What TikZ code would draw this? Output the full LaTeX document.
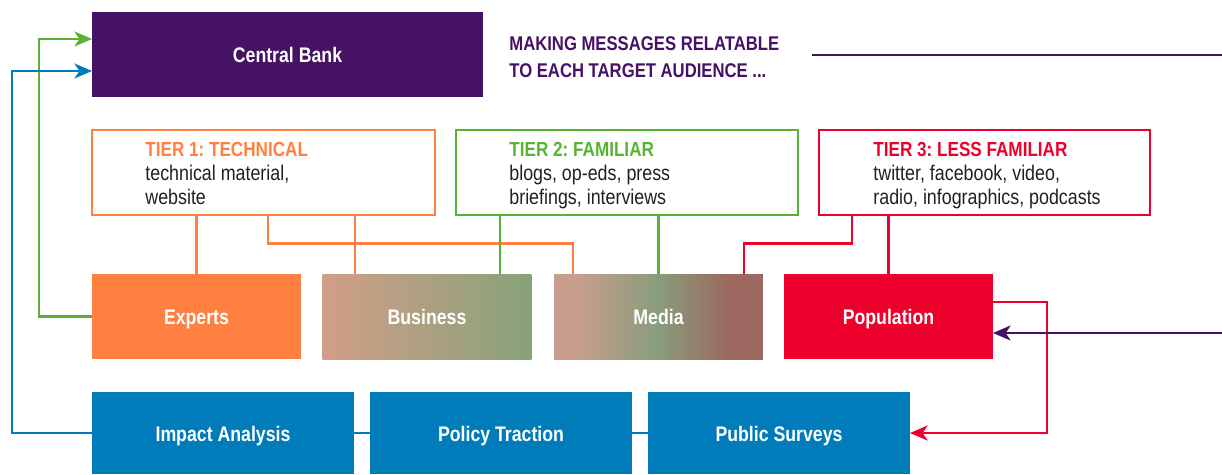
\documentclass[tikz,border=0pt]{standalone}
\usepackage{fontspec}
\setmainfont{Liberation Sans}[FakeStretch=0.84]
\usetikzlibrary{arrows.meta, positioning, calc}

\definecolor{cbpurple}{RGB}{69, 18, 100}
\definecolor{tierorange}{RGB}{255, 128, 64}
\definecolor{tiergreen}{RGB}{88, 178, 52}
\definecolor{tierred}{RGB}{236, 0, 44}
\definecolor{cbblue}{RGB}{0, 124, 186}
\definecolor{textgrey}{RGB}{35, 31, 32}
\definecolor{busA}{RGB}{210, 158, 136}
\definecolor{busB}{RGB}{135, 162, 122}
\definecolor{mediaA}{RGB}{202, 158, 142}
\definecolor{mediaB}{RGB}{137, 157, 125}
\definecolor{mediaC}{RGB}{157, 104, 96}

\pgfdeclarehorizontalshading{mediashade}{100bp}{color(0bp)=(mediaA); color(30bp)=(mediaA); color(49.5bp)=(mediaB); color(67bp)=(mediaC); color(100bp)=(mediaC)}

\newcommand{\boxfont}{\fontsize{12}{14}\selectfont\bfseries}
\newcommand{\tierfont}{\fontsize{12.1}{13.66}\selectfont}
\newcommand{\tiertitle}[2]{\textcolor{#1}{\fontsize{11.6}{13.66}\selectfont\bfseries #2}}

\tikzset{
  >={Stealth[length=10pt, width=8.5pt, inset=2.8pt]},
  bankbox/.style={fill=cbpurple, minimum width=7.82cm, minimum height=1.7cm, inner sep=0pt, outer sep=0pt, text=white, font=\boxfont, text height=9.6pt, text depth=0pt},
  msgtext/.style={align=left, inner sep=0pt, text=cbpurple, font=\fontsize{11.3}{15.6}\selectfont\bfseries},
  tierbox/.style={line width=1.4pt, minimum height=1.7cm, inner sep=0pt, outer sep=0pt},
  tiertext/.style={align=left, inner sep=0pt, text=textgrey, font=\tierfont, text depth=3pt},
  audience/.style={minimum width=4.18cm, minimum height=1.7cm, inner sep=0pt, outer sep=0pt, text=white, font=\boxfont, text height=9.6pt, text depth=0pt},
  outcome/.style={fill=cbblue, minimum width=5.24cm, minimum height=1.64cm, inner sep=0pt, outer sep=0pt, text=white, font=\boxfont, text height=9.6pt, text depth=0pt},
  orangeline/.style={draw=tierorange, line width=1.5pt},
  greenline/.style={draw=tiergreen, line width=1.5pt},
  redline/.style={draw=tierred, line width=1.5pt},
  blueline/.style={draw=cbblue, line width=1.5pt},
  purpleline/.style={draw=cbpurple, line width=1.5pt}
}

\begin{document}
\frenchspacing
\begin{tikzpicture}[x=0.02cm, y=-0.02cm]
  \useasboundingbox (0,0) rectangle (1222,474);

  % Central bank and message
  \node[bankbox] (bank) at (287.5,54.5) {Central Bank};
  \node[msgtext, anchor=west] (msg) at (509,57) {MAKING MESSAGES RELATABLE\\TO EACH TARGET AUDIENCE ...};
  \coordinate (msgline) at (812,55);
  \coordinate (turn) at (1240,55);

  % Tiers
  \node[tierbox, draw=tierorange, minimum width=6.86cm] (tier1) at (263.5,172.5) {};
  \node[tierbox, draw=tiergreen, minimum width=6.84cm] (tier2) at (627,172.5) {};
  \node[tierbox, draw=tierred, minimum width=6.62cm] (tier3) at (984.5,172.5) {};
  \node[tiertext, anchor=west] (tier1txt) at ($(tier1.west)+(53,3.5)$) {\tiertitle{tierorange}{TIER 1: TECHNICAL}\\technical material,\\website};
  \node[tiertext, anchor=west] (tier2txt) at ($(tier2.west)+(53,3.5)$) {\tiertitle{tiergreen}{TIER 2: FAMILIAR}\\blogs, op-eds, press\\briefings, interviews};
  \node[tiertext, anchor=west] (tier3txt) at ($(tier3.west)+(54,3.5)$) {\tiertitle{tierred}{TIER 3: LESS FAMILIAR}\\twitter, facebook, video,\\radio, infographics, podcasts};

  % Audiences
  \node[audience, fill=tierorange] (experts) at (196.5,316.5) {Experts};
  \node[audience, left color=busA, right color=busB] (business) at (427,316.5) {Business};
  \node[audience, shade, shading=mediashade] (media) at (658.5,316.5) {Media};
  \node[audience, fill=tierred] (population) at (888.5,316.5) {Population};

  % Feedback
  \node[outcome] (impact) at (223,433) {Impact Analysis};
  \node[outcome] (policy) at (501,433) {Policy Traction};
  \node[outcome] (surveys) at (779,433) {Public Surveys};

  % helper points
  \coordinate (b1) at ($(business.north)+(-72,0)$);
  \coordinate (b2) at ($(business.north)+(73,0)$);
  \coordinate (m1) at ($(media.north)+(-85.5,0)$);
  \coordinate (m3) at ($(media.north)+(85.5,0)$);
  \coordinate (k1) at ($(tier1.south)+(4.5,28.5)$);
  \coordinate (k3) at ($(tier3.south)+(-132.5,28.5)$);
  \coordinate (g1) at ($(experts.west)+(-53,0)$);
  \coordinate (g2) at ($(impact.west)+(-80,0)$);
  \coordinate (r1) at ($(population.east)+(54,0)$);

  % tier links
  \draw[orangeline] (tier1.south -| experts) -- (experts.north);
  \draw[orangeline] (tier1.south -| b1) -- (b1);
  \draw[orangeline] (tier1.south -| k1) -- (k1) -| (m1);
  \draw[greenline] (tier2.south -| b2) -- (b2);
  \draw[greenline] (tier2.south -| media) -- (media.north);
  \draw[redline] (tier3.south -| population) -- (population.north);
  \draw[redline] (tier3.south -| k3) -- (k3) -| (m3);

  % loops
  \draw[greenline, ->] (experts.west) -- (g1) |- ($(bank.west)+(0,-15.5)$);
  \draw[blueline, ->] (impact.west) -- (g2) |- ($(bank.west)+(0,16.5)$);
  \draw[blueline] (impact.east) -- (policy.west);
  \draw[blueline] (policy.east) -- (surveys.west);
  \draw[redline, ->] ($(population.east)+(0,-14.5)$) -| (r1) |- (surveys.east);
  \draw[purpleline, ->] (msgline) -- (turn) |- ($(population.east)+(0,16.5)$);
\end{tikzpicture}
\end{document}
